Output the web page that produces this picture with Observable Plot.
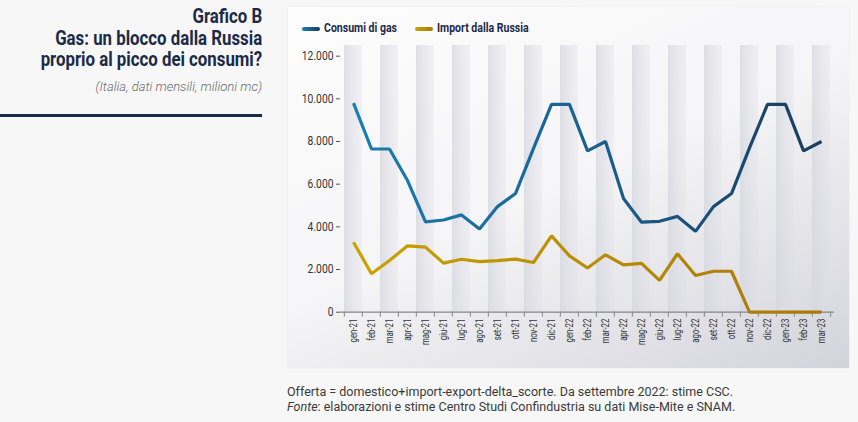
<!DOCTYPE html>
<html><head><meta charset="utf-8">
<script src="https://cdn.jsdelivr.net/npm/d3@7"></script>
<script src="https://cdn.jsdelivr.net/npm/@observablehq/plot@0.6"></script>
<style>
body{margin:0;background:#f7f7f7;width:858px;height:422px;overflow:hidden;font-family:Roboto,sans-serif;position:relative}
.title{position:absolute;right:596px;top:6.25px;text-align:right;white-space:nowrap;color:#1b2a47;font-weight:700;font-size:20.5px;line-height:21.5px;transform:scaleX(.82);transform-origin:right top}
.sub{position:absolute;right:596px;top:79.7px;white-space:nowrap;color:#6a6a6a;font-style:italic;font-weight:300;font-size:13px;line-height:13px}
.rule{position:absolute;left:0;top:114px;width:262px;height:3px;background:#1b2a47}
.panel{position:absolute;left:288px;top:7px;width:561px;height:361px;background:linear-gradient(155deg,#fdfdfd 0%,#f5f5f7 50%,#d3d3db 100%);box-shadow:0 0 2px rgba(0,0,0,.06)}
.sw{position:absolute;top:27px;width:18px;height:4px;border-radius:2px}
.lg{position:absolute;top:20px;white-space:nowrap;color:#1b2a47;font-weight:700;font-size:13px;line-height:15px;transform:scaleX(.81);transform-origin:left top}
#chart{position:absolute;left:288px;top:40px}
.foot{position:absolute;left:287px;top:383.7px;white-space:nowrap;color:#3a3a3a;font-size:12.5px;line-height:15px}
</style></head>
<body>
<div class="title">Grafico B<br>Gas: un blocco dalla Russia<br>proprio al picco dei consumi?</div>
<div class="sub">(Italia, dati mensili, milioni mc)</div>
<div class="rule"></div>
<div class="panel"></div>
<div class="sw" style="left:302px;background:linear-gradient(90deg,#1a7db0,#1b3c5e)"></div>
<div class="lg" style="left:324px">Consumi di gas</div>
<div class="sw" style="left:415px;background:linear-gradient(90deg,#c8a400,#a8780a)"></div>
<div class="lg" style="left:437px">Import dalla Russia</div>
<div id="chart"></div>
<div class="foot">Offerta = domestico+import-export-delta_scorte. Da settembre 2022: stime CSC.<br><i>Fonte</i>: elaborazioni e stime Centro Studi Confindustria su dati Mise-Mite e SNAM.</div>
<script>
const months = ["gen-21","feb-21","mar-21","apr-21","mag-21","giu-21","lug-21","ago-21","set-21","ott-21","nov-21","dic-21",
  "gen-22","feb-22","mar-22","apr-22","mag-22","giu-22","lug-22","ago-22","set-22","ott-22","nov-22","dic-22",
  "gen-23","feb-23","mar-23"];
const consumi = [9800,7650,7650,6170,4230,4320,4560,3900,4950,5560,7680,9740,
  9740,7560,8000,5330,4220,4260,4490,3790,4950,5560,7700,9740,
  9740,7560,8000];
const importRussia = [3280,1800,2420,3110,3050,2300,2480,2370,2420,2490,2330,3580,
  2640,2070,2690,2220,2290,1490,2740,1720,1920,1920,0,0,
  0,0,0];
const yTicks = [0,2000,4000,6000,8000,10000,12000];

const data = months.map((m,i)=>({month:m, consumi:consumi[i], imp:importRussia[i]}));
const stripes = months.filter((m,i)=>i%2===0);
const fmt = d => d3.format(",")(d).replace(/,/g,".");

const W = 561, H = 330, mL = 52, mR = 15;
const bw = (W - mL - mR) / months.length;

const svg = Plot.plot({
  width: W, height: H, marginLeft: mL, marginRight: mR, marginTop: 5, marginBottom: 58.3,
  style: {background: "transparent", overflow: "visible", fontFamily: "Roboto, sans-serif"},
  x: {type: "band", domain: months, padding: 0, axis: null},
  y: {domain: [0, 12500], axis: null},
  marks: [
    Plot.barY(stripes, {x: d => d, y1: 0, y2: 12500, fill: "url(#stripeGrad)"}),
    Plot.ruleY([0], {stroke: "#85858c", strokeWidth: 1.3}),
    Plot.axisX({tickSize: 5, fill: "none", stroke: "#85858c", dx: -bw/2, label: null}),
    Plot.axisX({ticks: [months[months.length-1]], tickSize: 5, fill: "none", stroke: "#85858c", dx: bw/2, label: null}),
    Plot.axisX({tickSize: 0, tickPadding: 6.5, tickRotate: -90, fontSize: 10, fill: "#333", label: null}),
    Plot.axisY({ticks: yTicks, tickFormat: fmt, tickSize: 4, tickPadding: 3, fontSize: 12, stroke: "#555", fill: "#333", label: null}),
    Plot.line(data, {x: "month", y: "imp", stroke: "url(#gImp)", strokeWidth: 3.2, strokeLinejoin: "miter", strokeLinecap: "butt"}),
    Plot.line(data, {x: "month", y: "consumi", stroke: "url(#gCons)", strokeWidth: 3.2, strokeLinejoin: "miter", strokeLinecap: "butt"})
  ]
});
svg.insertAdjacentHTML("afterbegin", `<defs>
<linearGradient id="stripeGrad" x1="0" x2="1" y1="0" y2="0">
<stop offset="0" stop-color="#d6d6df" stop-opacity="0.75"/><stop offset="1" stop-color="#dedee6" stop-opacity="0.3"/></linearGradient>
<linearGradient id="gCons" x1="0" x2="1" y1="0" y2="0">
<stop offset="0" stop-color="#1a7db0"/><stop offset="0.45" stop-color="#1a6594"/><stop offset="1" stop-color="#1b3c5e"/></linearGradient>
<linearGradient id="gImp" x1="0" x2="1" y1="0" y2="0">
<stop offset="0" stop-color="#c9a300"/><stop offset="1" stop-color="#a8780a"/></linearGradient>
</defs>`);
function squeeze(sel, s){
  svg.querySelectorAll(sel).forEach(t => {
    const tr = t.getAttribute("transform") || "";
    t.setAttribute("transform", tr + ` scale(${s},1)`);
  });
}
squeeze('[aria-label="y-axis tick label"] text', 0.86);
squeeze('[aria-label="x-axis tick label"] text', 0.78);
document.getElementById("chart").appendChild(svg);
</script>
</body></html>
